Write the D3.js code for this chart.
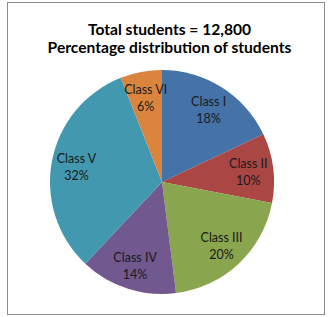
<!DOCTYPE html>
<html><head><meta charset="utf-8">
<script src="https://cdn.jsdelivr.net/npm/d3@7"></script>
<style>body{margin:0;background:#fff;}svg{display:block;}</style>
</head><body>
<script>
const categories = ["Class I","Class II","Class III","Class IV","Class V","Class VI"];
const values = [18,10,20,14,32,6];
const colors = ["#4572A7","#AA4643","#89A54E","#71588F","#4198AF","#DB843D"];
const titleLines = ["Total students = 12,800","Percentage distribution of students"];

const W=328,H=317, cx=162, cy=182, r=112;
const svg=d3.select("body").append("svg").attr("width",W).attr("height",H);
svg.append("rect").attr("x",7.5).attr("y",2.5).attr("width",317).attr("height",312)
  .attr("fill","#fff").attr("stroke","#8c8c8c").attr("stroke-width",1);

svg.selectAll("text.title").data(titleLines).enter().append("text")
  .attr("class","title").attr("x",169.5).attr("y",(d,i)=>35+i*17.5)
  .attr("text-anchor","middle").attr("font-family","Lato, 'Open Sans', sans-serif")
  .attr("font-weight","bold").attr("font-size",15.6).attr("fill","#000").text(d=>d);

const data = categories.map((c,i)=>({cat:c,val:values[i],color:colors[i]}));
const pie=d3.pie().value(d=>d.val).sort(null);
const arc=d3.arc().innerRadius(0).outerRadius(r);
const g=svg.append("g").attr("transform",`translate(${cx},${cy})`);
const arcs=pie(data);
g.selectAll("path").data(arcs).enter().append("path").attr("d",arc).attr("fill",d=>d.data.color);

const lab=d3.arc().innerRadius(87).outerRadius(87);
const lg=g.selectAll("g.lab").data(arcs).enter().append("g").attr("class","lab")
  .attr("transform",d=>`translate(${lab.centroid(d)})`);
lg.append("text").attr("text-anchor","middle").attr("y",-3)
  .attr("font-family","Lato, 'Open Sans', sans-serif").attr("font-size",12.5).attr("fill","#1a1a1a")
  .text(d=>d.data.cat);
lg.append("text").attr("text-anchor","middle").attr("y",14)
  .attr("font-family","Lato, 'Open Sans', sans-serif").attr("font-size",12.5).attr("fill","#1a1a1a")
  .text(d=>d.data.val+"%");
</script>
</body></html>
